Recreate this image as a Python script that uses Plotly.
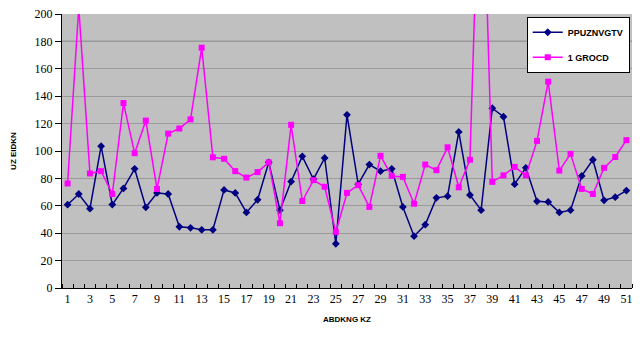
import plotly.graph_objects as go

categories = list(range(1, 52))
tick_values = list(range(1, 52, 2))
tick_labels = [str(v) for v in tick_values]

series_a_name = "PPUZNVGTV"
series_a = [60.8, 68.6, 57.9, 103.5, 60.9, 72.7, 87.0, 58.9, 69.4, 68.6,
            44.7, 43.9, 42.5, 42.5, 71.6, 69.4, 55.2, 64.4, 91.7, 56.8,
            77.7, 96.1, 79.4, 94.9, 32.3, 126.4, 75.8, 90.1, 85.3, 87.0,
            59.2, 37.8, 46.2, 65.8, 67.0, 113.9, 67.9, 56.8, 131.2, 125.0,
            75.8, 87.7, 63.3, 62.8, 55.2, 56.8, 81.8, 93.6, 64.0, 66.3, 71.1]

series_b_name = "1 GROCD"
series_b = [76.3, 205.0, 83.6, 85.3, 68.6, 135.0, 98.4, 122.2, 72.3, 112.7,
            116.4, 123.1, 175.4, 95.4, 94.3, 85.3, 80.6, 84.6, 91.7, 47.3,
            119.1, 63.5, 78.7, 73.9, 40.9, 69.4, 75.1, 59.2, 96.5, 81.8,
            81.1, 61.5, 90.1, 86.0, 102.7, 73.5, 93.6, 355.0, 77.5, 82.2,
            88.4, 82.2, 107.4, 150.6, 85.7, 97.9, 72.3, 68.6, 87.7, 95.6, 107.9]

reference_level = 180
y_ticks = list(range(0, 201, 20))
x_title = "ABDKNG KZ"
y_title = "UZ EIDKN"

fig = go.Figure()
fig.add_trace(go.Scatter(
    x=categories, y=series_a, name=series_a_name, mode="lines+markers",
    legendgroup="a",
    line=dict(color="#000080", width=1.5),
    marker=dict(symbol="diamond", size=6, color="#000080"),
))
fig.add_trace(go.Scatter(
    x=categories, y=series_b, name=series_b_name, mode="lines+markers",
    legendgroup="b",
    line=dict(color="#FF00FF", width=1.5),
    marker=dict(symbol="square", size=6, color="#FF00FF"),
))

fig.add_shape(type="line", xref="paper", yref="y", x0=0, x1=1,
              y0=reference_level, y1=reference_level,
              line=dict(color="#000000", width=1), layer="between")

fig.update_layout(
    width=640, height=342,
    margin=dict(l=62, r=8, t=7, b=54),
    paper_bgcolor="#FFFFFF",
    plot_bgcolor="#C0C0C0",
    font=dict(family="Liberation Serif", size=12, color="#000000"),
    showlegend=True,
    legend=dict(
        x=0.996, y=0.99, xanchor="right", yanchor="top",
        bgcolor="#FFFFFF", bordercolor="#000000", borderwidth=1,
        font=dict(family="Liberation Sans Narrow, Liberation Sans", size=9, weight="bold"),
        itemwidth=30, tracegroupgap=6,
    ),
    xaxis=dict(
        range=[0.5, 51.5], tickmode="array", tickvals=tick_values, ticktext=tick_labels,
        ticks="", showgrid=False, zeroline=False,
        showline=True, linecolor="#000000", linewidth=1,
        minor=dict(tick0=0.5, dtick=1, ticks="inside", ticklen=4,
                   tickcolor="#000000", showgrid=False),
        title=dict(text=x_title, font=dict(family="Liberation Sans Narrow, Liberation Sans", size=8, weight="bold"), standoff=10),
        tickfont=dict(size=12),
    ),
    yaxis=dict(
        range=[0, 200], tickmode="array", tickvals=y_ticks,
        ticks="outside", ticklen=6, tickcolor="#000000",
        showgrid=True, gridcolor="#9A9A9A", gridwidth=1, zeroline=False,
        showline=True, linecolor="#000000", linewidth=1,
        title=dict(text=y_title, font=dict(family="Liberation Sans Narrow, Liberation Sans", size=8, weight="bold"), standoff=16),
        tickfont=dict(size=12),
    ),
)

fig.write_html("out.html")
